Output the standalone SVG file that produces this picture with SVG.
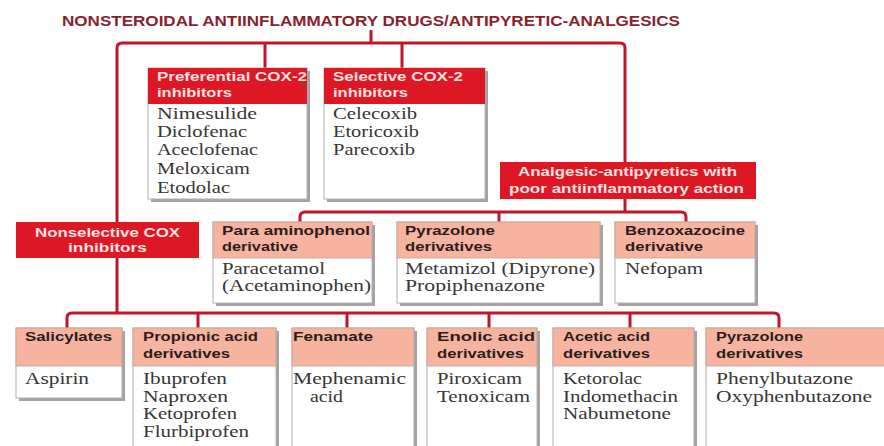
<svg xmlns="http://www.w3.org/2000/svg" width="884" height="446" viewBox="0 0 884 446">
<style>
.ln{fill:none;stroke:#c4142a;stroke-width:3;stroke-linejoin:round;stroke-linecap:butt}
.shd{fill:#a3a3a3}
.red{fill:#dd1824}
.sal{fill:#f5b3a0;stroke:#c9a095;stroke-width:0.8}
.body{fill:#ffffff;stroke:#b0b0b0;stroke-width:1}
.h{font-family:"Liberation Sans",Arial,sans-serif;font-weight:bold;font-size:12.5px}
.w{fill:#fae2e2}
.d{fill:#2d1d1d}
.t{font-family:"Liberation Serif","Times New Roman",serif;font-size:16px;fill:#363636}
.title{font-family:"Liberation Sans",Arial,sans-serif;font-weight:bold;font-size:15px;fill:#8c1f2c}
</style>
<rect width="884" height="446" fill="#ffffff"/>
<g id="title">
<text class="title" x="62" y="26" textLength="618" lengthAdjust="spacingAndGlyphs">NONSTEROIDAL ANTIINFLAMMATORY DRUGS/ANTIPYRETIC-ANALGESICS</text>
</g>
<g id="connectors">
<path class="ln" d="M371 30 V43"/>
<path class="ln" d="M117 313 V48 Q117 43 122 43 H620 Q625 43 625 48 V162"/>
<path class="ln" d="M265 43 V68 M402 43 V68"/>
<path class="ln" d="M625 199 V212"/>
<path class="ln" d="M300 222 V217 Q300 212 305 212 H681 Q686 212 686 217 V222"/>
<path class="ln" d="M499 212 V222"/>
<path class="ln" d="M67 328 V318 Q67 313 72 313 H774 Q779 313 779 318 V328"/>
<path class="ln" d="M198 313 V328 M347 313 V328 M489 313 V328 M630 313 V328"/>
</g>
<g id="preferential">
<rect class="shd" x="151" y="71" width="159" height="131"/>
<rect class="body" x="148" y="68" width="159" height="131"/>
<rect class="red" x="148" y="68" width="159" height="36"/>
<text class="h w" x="157" y="81" textLength="150" lengthAdjust="spacingAndGlyphs">Preferential COX-2</text>
<text class="h w" x="157" y="97" textLength="75" lengthAdjust="spacingAndGlyphs">inhibitors</text>
<text class="t" x="157" y="119" textLength="100" lengthAdjust="spacingAndGlyphs">Nimesulide</text>
<text class="t" x="157" y="137" textLength="90" lengthAdjust="spacingAndGlyphs">Diclofenac</text>
<text class="t" x="157" y="155" textLength="101" lengthAdjust="spacingAndGlyphs">Aceclofenac</text>
<text class="t" x="157" y="174" textLength="93" lengthAdjust="spacingAndGlyphs">Meloxicam</text>
<text class="t" x="157" y="193" textLength="73" lengthAdjust="spacingAndGlyphs">Etodolac</text>
</g>
<g id="selective">
<rect class="shd" x="327" y="71" width="161" height="131"/>
<rect class="body" x="324" y="68" width="161" height="131"/>
<rect class="red" x="324" y="68" width="161" height="36"/>
<text class="h w" x="333" y="81" textLength="130" lengthAdjust="spacingAndGlyphs">Selective COX-2</text>
<text class="h w" x="333" y="97" textLength="75" lengthAdjust="spacingAndGlyphs">inhibitors</text>
<text class="t" x="333" y="119" textLength="84" lengthAdjust="spacingAndGlyphs">Celecoxib</text>
<text class="t" x="333" y="137" textLength="86" lengthAdjust="spacingAndGlyphs">Etoricoxib</text>
<text class="t" x="333" y="155" textLength="82" lengthAdjust="spacingAndGlyphs">Parecoxib</text>
</g>
<g id="analgesic">
<rect class="red" x="500" y="162" width="256" height="37"/>
<text class="h w" x="518" y="176" textLength="219" lengthAdjust="spacingAndGlyphs">Analgesic-antipyretics with</text>
<text class="h w" x="509" y="193" textLength="235" lengthAdjust="spacingAndGlyphs">poor antiinflammatory action</text>
</g>
<g id="nonselective">
<rect class="red" x="16" y="222" width="183" height="36"/>
<text class="h w" x="35" y="237" textLength="145" lengthAdjust="spacingAndGlyphs">Nonselective COX</text>
<text class="h w" x="68" y="252" textLength="79" lengthAdjust="spacingAndGlyphs">inhibitors</text>
</g>
<g id="para-aminophenol">
<rect class="shd" x="216" y="225" width="159" height="81"/>
<rect class="body" x="213" y="222" width="159" height="81"/>
<rect class="sal" x="213" y="222" width="159" height="36"/>
<text class="h d" x="222" y="235" textLength="148" lengthAdjust="spacingAndGlyphs">Para aminophenol</text>
<text class="h d" x="222" y="251" textLength="76" lengthAdjust="spacingAndGlyphs">derivative</text>
<text class="t" x="222" y="274" textLength="103" lengthAdjust="spacingAndGlyphs">Paracetamol</text>
<text class="t" x="222" y="291" textLength="149" lengthAdjust="spacingAndGlyphs">(Acetaminophen)</text>
</g>
<g id="pyrazolone-mid">
<rect class="shd" x="400" y="225" width="203" height="81"/>
<rect class="body" x="397" y="222" width="203" height="81"/>
<rect class="sal" x="397" y="222" width="203" height="36"/>
<text class="h d" x="405" y="235" textLength="90" lengthAdjust="spacingAndGlyphs">Pyrazolone</text>
<text class="h d" x="405" y="251" textLength="87" lengthAdjust="spacingAndGlyphs">derivatives</text>
<text class="t" x="405" y="274" textLength="190" lengthAdjust="spacingAndGlyphs">Metamizol (Dipyrone)</text>
<text class="t" x="405" y="291" textLength="140" lengthAdjust="spacingAndGlyphs">Propiphenazone</text>
</g>
<g id="benzoxazocine">
<rect class="shd" x="618" y="225" width="140" height="81"/>
<rect class="body" x="615" y="222" width="140" height="81"/>
<rect class="sal" x="615" y="222" width="140" height="36"/>
<text class="h d" x="625" y="235" textLength="120" lengthAdjust="spacingAndGlyphs">Benzoxazocine</text>
<text class="h d" x="625" y="251" textLength="78" lengthAdjust="spacingAndGlyphs">derivative</text>
<text class="t" x="625" y="274" textLength="78" lengthAdjust="spacingAndGlyphs">Nefopam</text>
</g>
<g id="salicylates">
<rect class="shd" x="19" y="331" width="106" height="70"/>
<rect class="body" x="16" y="328" width="106" height="70"/>
<rect class="sal" x="16" y="328" width="106" height="38"/>
<text class="h d" x="25" y="341" textLength="87" lengthAdjust="spacingAndGlyphs">Salicylates</text>
<text class="t" x="25" y="384" textLength="64" lengthAdjust="spacingAndGlyphs">Aspirin</text>
</g>
<g id="propionic">
<rect class="shd" x="136" y="331" width="143" height="130"/>
<rect class="body" x="133" y="328" width="143" height="130"/>
<rect class="sal" x="133" y="328" width="143" height="38"/>
<text class="h d" x="143" y="341" textLength="115" lengthAdjust="spacingAndGlyphs">Propionic acid</text>
<text class="h d" x="143" y="358" textLength="87" lengthAdjust="spacingAndGlyphs">derivatives</text>
<text class="t" x="143" y="384" textLength="84" lengthAdjust="spacingAndGlyphs">Ibuprofen</text>
<text class="t" x="143" y="402" textLength="85" lengthAdjust="spacingAndGlyphs">Naproxen</text>
<text class="t" x="143" y="419" textLength="94" lengthAdjust="spacingAndGlyphs">Ketoprofen</text>
<text class="t" x="143" y="437" textLength="106" lengthAdjust="spacingAndGlyphs">Flurbiprofen</text>
</g>
<g id="fenamate">
<rect class="shd" x="295" y="331" width="122" height="130"/>
<rect class="body" x="292" y="328" width="122" height="130"/>
<rect class="sal" x="292" y="328" width="122" height="38"/>
<text class="h d" x="293" y="341" textLength="80" lengthAdjust="spacingAndGlyphs">Fenamate</text>
<text class="t" x="293" y="384" textLength="113" lengthAdjust="spacingAndGlyphs">Mephenamic</text>
<text class="t" x="310" y="402" textLength="33" lengthAdjust="spacingAndGlyphs">acid</text>
</g>
<g id="enolic">
<rect class="shd" x="430" y="331" width="110" height="130"/>
<rect class="body" x="427" y="328" width="110" height="130"/>
<rect class="sal" x="427" y="328" width="110" height="38"/>
<text class="h d" x="437" y="341" textLength="98" lengthAdjust="spacingAndGlyphs">Enolic acid</text>
<text class="h d" x="437" y="358" textLength="87" lengthAdjust="spacingAndGlyphs">derivatives</text>
<text class="t" x="437" y="384" textLength="85" lengthAdjust="spacingAndGlyphs">Piroxicam</text>
<text class="t" x="437" y="402" textLength="93" lengthAdjust="spacingAndGlyphs">Tenoxicam</text>
</g>
<g id="acetic">
<rect class="shd" x="556" y="331" width="141" height="130"/>
<rect class="body" x="553" y="328" width="141" height="130"/>
<rect class="sal" x="553" y="328" width="141" height="38"/>
<text class="h d" x="563" y="341" textLength="87" lengthAdjust="spacingAndGlyphs">Acetic acid</text>
<text class="h d" x="563" y="358" textLength="87" lengthAdjust="spacingAndGlyphs">derivatives</text>
<text class="t" x="563" y="384" textLength="79" lengthAdjust="spacingAndGlyphs">Ketorolac</text>
<text class="t" x="563" y="402" textLength="115" lengthAdjust="spacingAndGlyphs">Indomethacin</text>
<text class="t" x="563" y="419" textLength="108" lengthAdjust="spacingAndGlyphs">Nabumetone</text>
</g>
<g id="pyrazolone-bottom">
<rect class="shd" x="709" y="331" width="185" height="130"/>
<rect class="body" x="706" y="328" width="185" height="130"/>
<rect class="sal" x="706" y="328" width="185" height="38"/>
<text class="h d" x="716" y="341" textLength="87" lengthAdjust="spacingAndGlyphs">Pyrazolone</text>
<text class="h d" x="716" y="358" textLength="87" lengthAdjust="spacingAndGlyphs">derivatives</text>
<text class="t" x="716" y="384" textLength="137" lengthAdjust="spacingAndGlyphs">Phenylbutazone</text>
<text class="t" x="716" y="402" textLength="156" lengthAdjust="spacingAndGlyphs">Oxyphenbutazone</text>
</g>
</svg>
